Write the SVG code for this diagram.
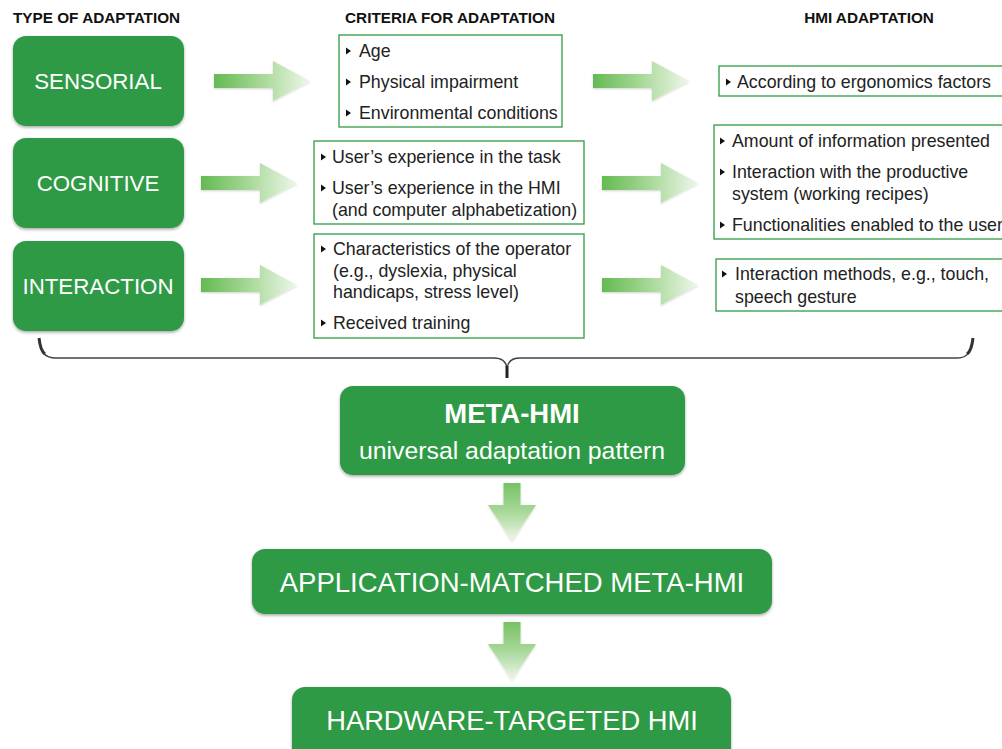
<svg xmlns="http://www.w3.org/2000/svg" width="1002" height="749" viewBox="0 0 1002 749">
<defs>
<filter id="sh" x="-10%" y="-10%" width="120%" height="130%"><feDropShadow dx="0" dy="1.5" stdDeviation="1.5" flood-color="#000" flood-opacity="0.35"/></filter>
<filter id="ash" x="-10%" y="-10%" width="120%" height="130%"><feDropShadow dx="0" dy="1" stdDeviation="1" flood-color="#000" flood-opacity="0.18"/></filter>
<linearGradient id="gh" x1="0" y1="0" x2="1" y2="0"><stop offset="0" stop-color="#64ba52"/><stop offset="0.5" stop-color="#a8d898"/><stop offset="1" stop-color="#eef7ea"/></linearGradient>
<linearGradient id="gv" x1="0" y1="0" x2="0" y2="1"><stop offset="0" stop-color="#76c263"/><stop offset="0.5" stop-color="#a9d89a"/><stop offset="1" stop-color="#eef7ea"/></linearGradient>
<polygon id="ha" points="0,-7 59,-7 59,-20 96,0 59,20 59,7 0,7"/>
<polygon id="va" points="-8.5,0 8.5,0 8.5,22 24,22 0,58 -24,22 -8.5,22"/>
<polygon id="bul" points="0,-3.5 5,0 0,3.5"/>
</defs>
<style>
.gb{fill:#2f9a45;filter:url(#sh)}
.gt{fill:#fff;font-family:"Liberation Sans",Arial,sans-serif;text-anchor:middle}
.hd{font-family:"Liberation Sans",Arial,sans-serif;font-weight:bold;font-size:15.3px;fill:#111}
.cb{fill:#fff;stroke:#2f9a45;stroke-width:1.3}
.ct{font-family:"Liberation Sans",Arial,sans-serif;font-size:17.8px;fill:#222}
.b{fill:#111}
</style>
<rect width="1002" height="749" fill="#fff"/>

<g id="headers">
<text class="hd" x="13" y="23">TYPE OF ADAPTATION</text>
<text class="hd" x="450" y="23" text-anchor="middle">CRITERIA FOR ADAPTATION</text>
<text class="hd" x="869" y="23" text-anchor="middle">HMI ADAPTATION</text>
</g>

<g id="sensorial"><rect class="gb" x="13" y="36" width="171" height="90" rx="13"/><text class="gt" x="98" y="89" font-size="22.3">SENSORIAL</text></g>
<g id="cognitive"><rect class="gb" x="13" y="138" width="171" height="90" rx="13"/><text class="gt" x="98" y="191" font-size="22.3">COGNITIVE</text></g>
<g id="interaction"><rect class="gb" x="13" y="241" width="171" height="90" rx="13"/><text class="gt" x="98" y="294" font-size="22.3">INTERACTION</text></g>

<g id="crit-sensorial">
<rect class="cb" x="339" y="35" width="223" height="92"/>
<use href="#bul" class="b" x="346" y="51"/><text class="ct" x="359" y="57">Age</text>
<use href="#bul" class="b" x="346" y="82"/><text class="ct" x="359" y="88">Physical impairment</text>
<use href="#bul" class="b" x="346" y="113"/><text class="ct" x="359" y="119">Environmental conditions</text>
</g>
<g id="crit-cognitive">
<rect class="cb" x="314" y="141" width="270" height="83"/>
<use href="#bul" class="b" x="321" y="157"/><text class="ct" x="332" y="163">User’s experience in the task</text>
<use href="#bul" class="b" x="321" y="188"/><text class="ct" x="332" y="194">User’s experience in the HMI</text>
<text class="ct" x="332" y="216">(and computer alphabetization)</text>
</g>
<g id="crit-interaction">
<rect class="cb" x="314" y="234" width="270" height="104"/>
<use href="#bul" class="b" x="321" y="249"/><text class="ct" x="333" y="255">Characteristics of the operator</text>
<text class="ct" x="333" y="277">(e.g., dyslexia, physical</text>
<text class="ct" x="333" y="298">handicaps, stress level)</text>
<use href="#bul" class="b" x="321" y="323"/><text class="ct" x="333" y="329">Received training</text>
</g>

<g id="hmi-sensorial">
<rect class="cb" x="719" y="66" width="300" height="30"/>
<use href="#bul" class="b" x="726" y="82"/><text class="ct" x="737" y="88">According to ergonomics factors</text>
</g>
<g id="hmi-cognitive">
<rect class="cb" x="714" y="125" width="300" height="114"/>
<use href="#bul" class="b" x="720" y="141"/><text class="ct" x="732" y="147">Amount of information presented</text>
<use href="#bul" class="b" x="720" y="172"/><text class="ct" x="732" y="178">Interaction with the productive</text>
<text class="ct" x="732" y="200">system (working recipes)</text>
<use href="#bul" class="b" x="720" y="225"/><text class="ct" x="732" y="231">Functionalities enabled to the user</text>
</g>
<g id="hmi-interaction">
<rect class="cb" x="716" y="259" width="300" height="52"/>
<use href="#bul" class="b" x="722" y="274"/><text class="ct" x="735" y="280">Interaction methods, e.g., touch,</text>
<text class="ct" x="735" y="303">speech gesture</text>
</g>

<g id="meta-hmi"><rect class="gb" x="340" y="386" width="345" height="89" rx="13"/>
<text class="gt" x="512" y="423" font-size="27.5" font-weight="bold">META-HMI</text>
<text class="gt" x="512" y="459" font-size="24.8">universal adaptation pattern</text></g>
<g id="application"><rect class="gb" x="252" y="549" width="520" height="65" rx="13"/>
<text class="gt" x="512" y="592" font-size="27.5">APPLICATION-MATCHED META-HMI</text></g>
<g id="hardware"><rect class="gb" x="292" y="687" width="439" height="75" rx="13"/>
<text class="gt" x="512" y="730" font-size="27.3">HARDWARE-TARGETED HMI</text></g>

<g id="connectors">
<g fill="url(#gh)" filter="url(#ash)">
<use href="#ha" x="214" y="81"/>
<use href="#ha" x="593" y="81"/>
<use href="#ha" x="201" y="183"/>
<use href="#ha" x="602" y="183"/>
<use href="#ha" x="201" y="285"/>
<use href="#ha" x="602" y="285"/>
</g>
<g fill="url(#gv)" filter="url(#ash)">
<use href="#va" x="512" y="483"/>
<use href="#va" x="512" y="622"/>
</g>
<path d="M39,338 C40,350 43,358 56,358 L494,358 C502,358 506,361 507,368 C508,361 512,358 520,358 L958,358 C968,358 972,350 973,338" fill="none" stroke="#444" stroke-width="1.4"/>
<path d="M507,366 L507,378" stroke="#222" stroke-width="3"/>
<path d="M39,338 C40,347 42,352 45,354" fill="none" stroke="#333" stroke-width="3"/>
<path d="M973,338 C972,347 970,352 967,354" fill="none" stroke="#333" stroke-width="3"/>
</g>
</svg>
